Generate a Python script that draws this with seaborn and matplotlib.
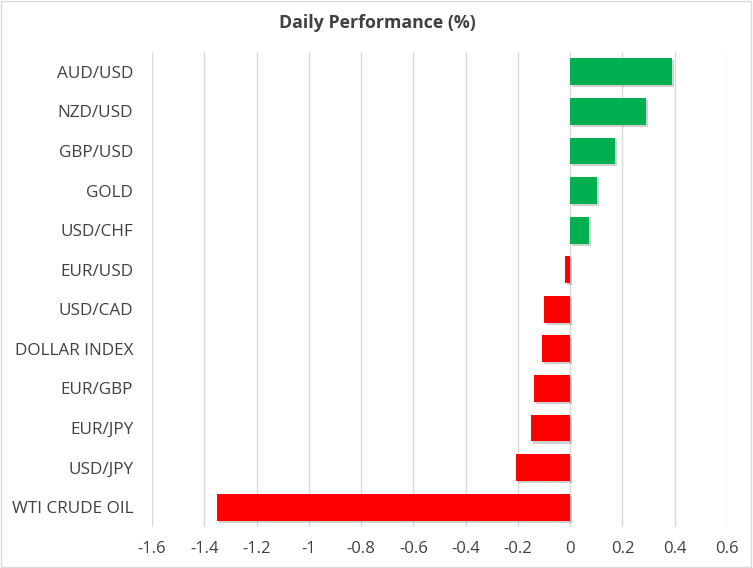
import matplotlib
matplotlib.use("Agg")
import matplotlib.pyplot as plt
import matplotlib.patheffects as pe
import seaborn as sns
import pandas as pd

categories = ["AUD/USD", "NZD/USD", "GBP/USD", "GOLD", "USD/CHF", "EUR/USD",
              "USD/CAD", "DOLLAR INDEX", "EUR/GBP", "EUR/JPY", "USD/JPY", "WTI CRUDE OIL"]
values = [0.39, 0.29, 0.172, 0.103, 0.073, -0.019, -0.10, -0.107, -0.138, -0.149, -0.207, -1.352]
x_ticks = [-1.6, -1.4, -1.2, -1.0, -0.8, -0.6, -0.4, -0.2, 0, 0.2, 0.4, 0.6]
x_tick_labels = ["-1.6", "-1.4", "-1.2", "-1", "-0.8", "-0.6", "-0.4", "-0.2", "0", "0.2", "0.4", "0.6"]
title = "Daily Performance (%)"

df = pd.DataFrame({"cat": categories, "val": values})
df["sign"] = ["pos" if v >= 0 else "neg" for v in values]

sns.set_theme(style="white")
plt.rcParams["font.family"] = ["Open Sans", "DejaVu Sans"]

fig = plt.figure(figsize=(7.53, 5.68), dpi=100)
ax = fig.add_axes([152/753, 1-527/568, (727-152)/753, (527-52)/568])

sns.barplot(data=df, y="cat", x="val", hue="sign",
            palette={"pos": "#00B050", "neg": "#FF0000"}, saturation=1,
            order=categories, orient="h", width=0.68, legend=False, ax=ax,
            zorder=3)
for p in ax.patches:
    p.set_path_effects([pe.SimplePatchShadow(offset=(1.5, -1.5), alpha=0.18, shadow_rgbFace="#000000"), pe.Normal()])
    p.set_linewidth(0)

ax.set_xlim(-1.6, 0.6)
ax.set_xticks(x_ticks)
ax.set_xticklabels(x_tick_labels)
ax.set_xlabel("")
ax.set_ylabel("")
ax.grid(axis="x", color="#D9D9D9", linewidth=1, zorder=0)
ax.set_axisbelow(True)
for s in ax.spines.values():
    s.set_visible(False)
ax.tick_params(axis="y", length=0, pad=13.5, labelsize=12.3, labelcolor="#404040")
ax.tick_params(axis="x", length=0, pad=10, labelsize=12, labelcolor="#404040")

fig.text(377/753, 1-23/568, title, ha="center", va="center", fontsize=12.8,
         fontweight="bold", color="#404040")

border = plt.Rectangle((0.001, 0.001), 0.997, 0.997, transform=fig.transFigure,
                       fill=False, edgecolor="#D9D9D9", linewidth=1)
fig.patches.append(border)

fig.savefig("out.png", dpi=100)
